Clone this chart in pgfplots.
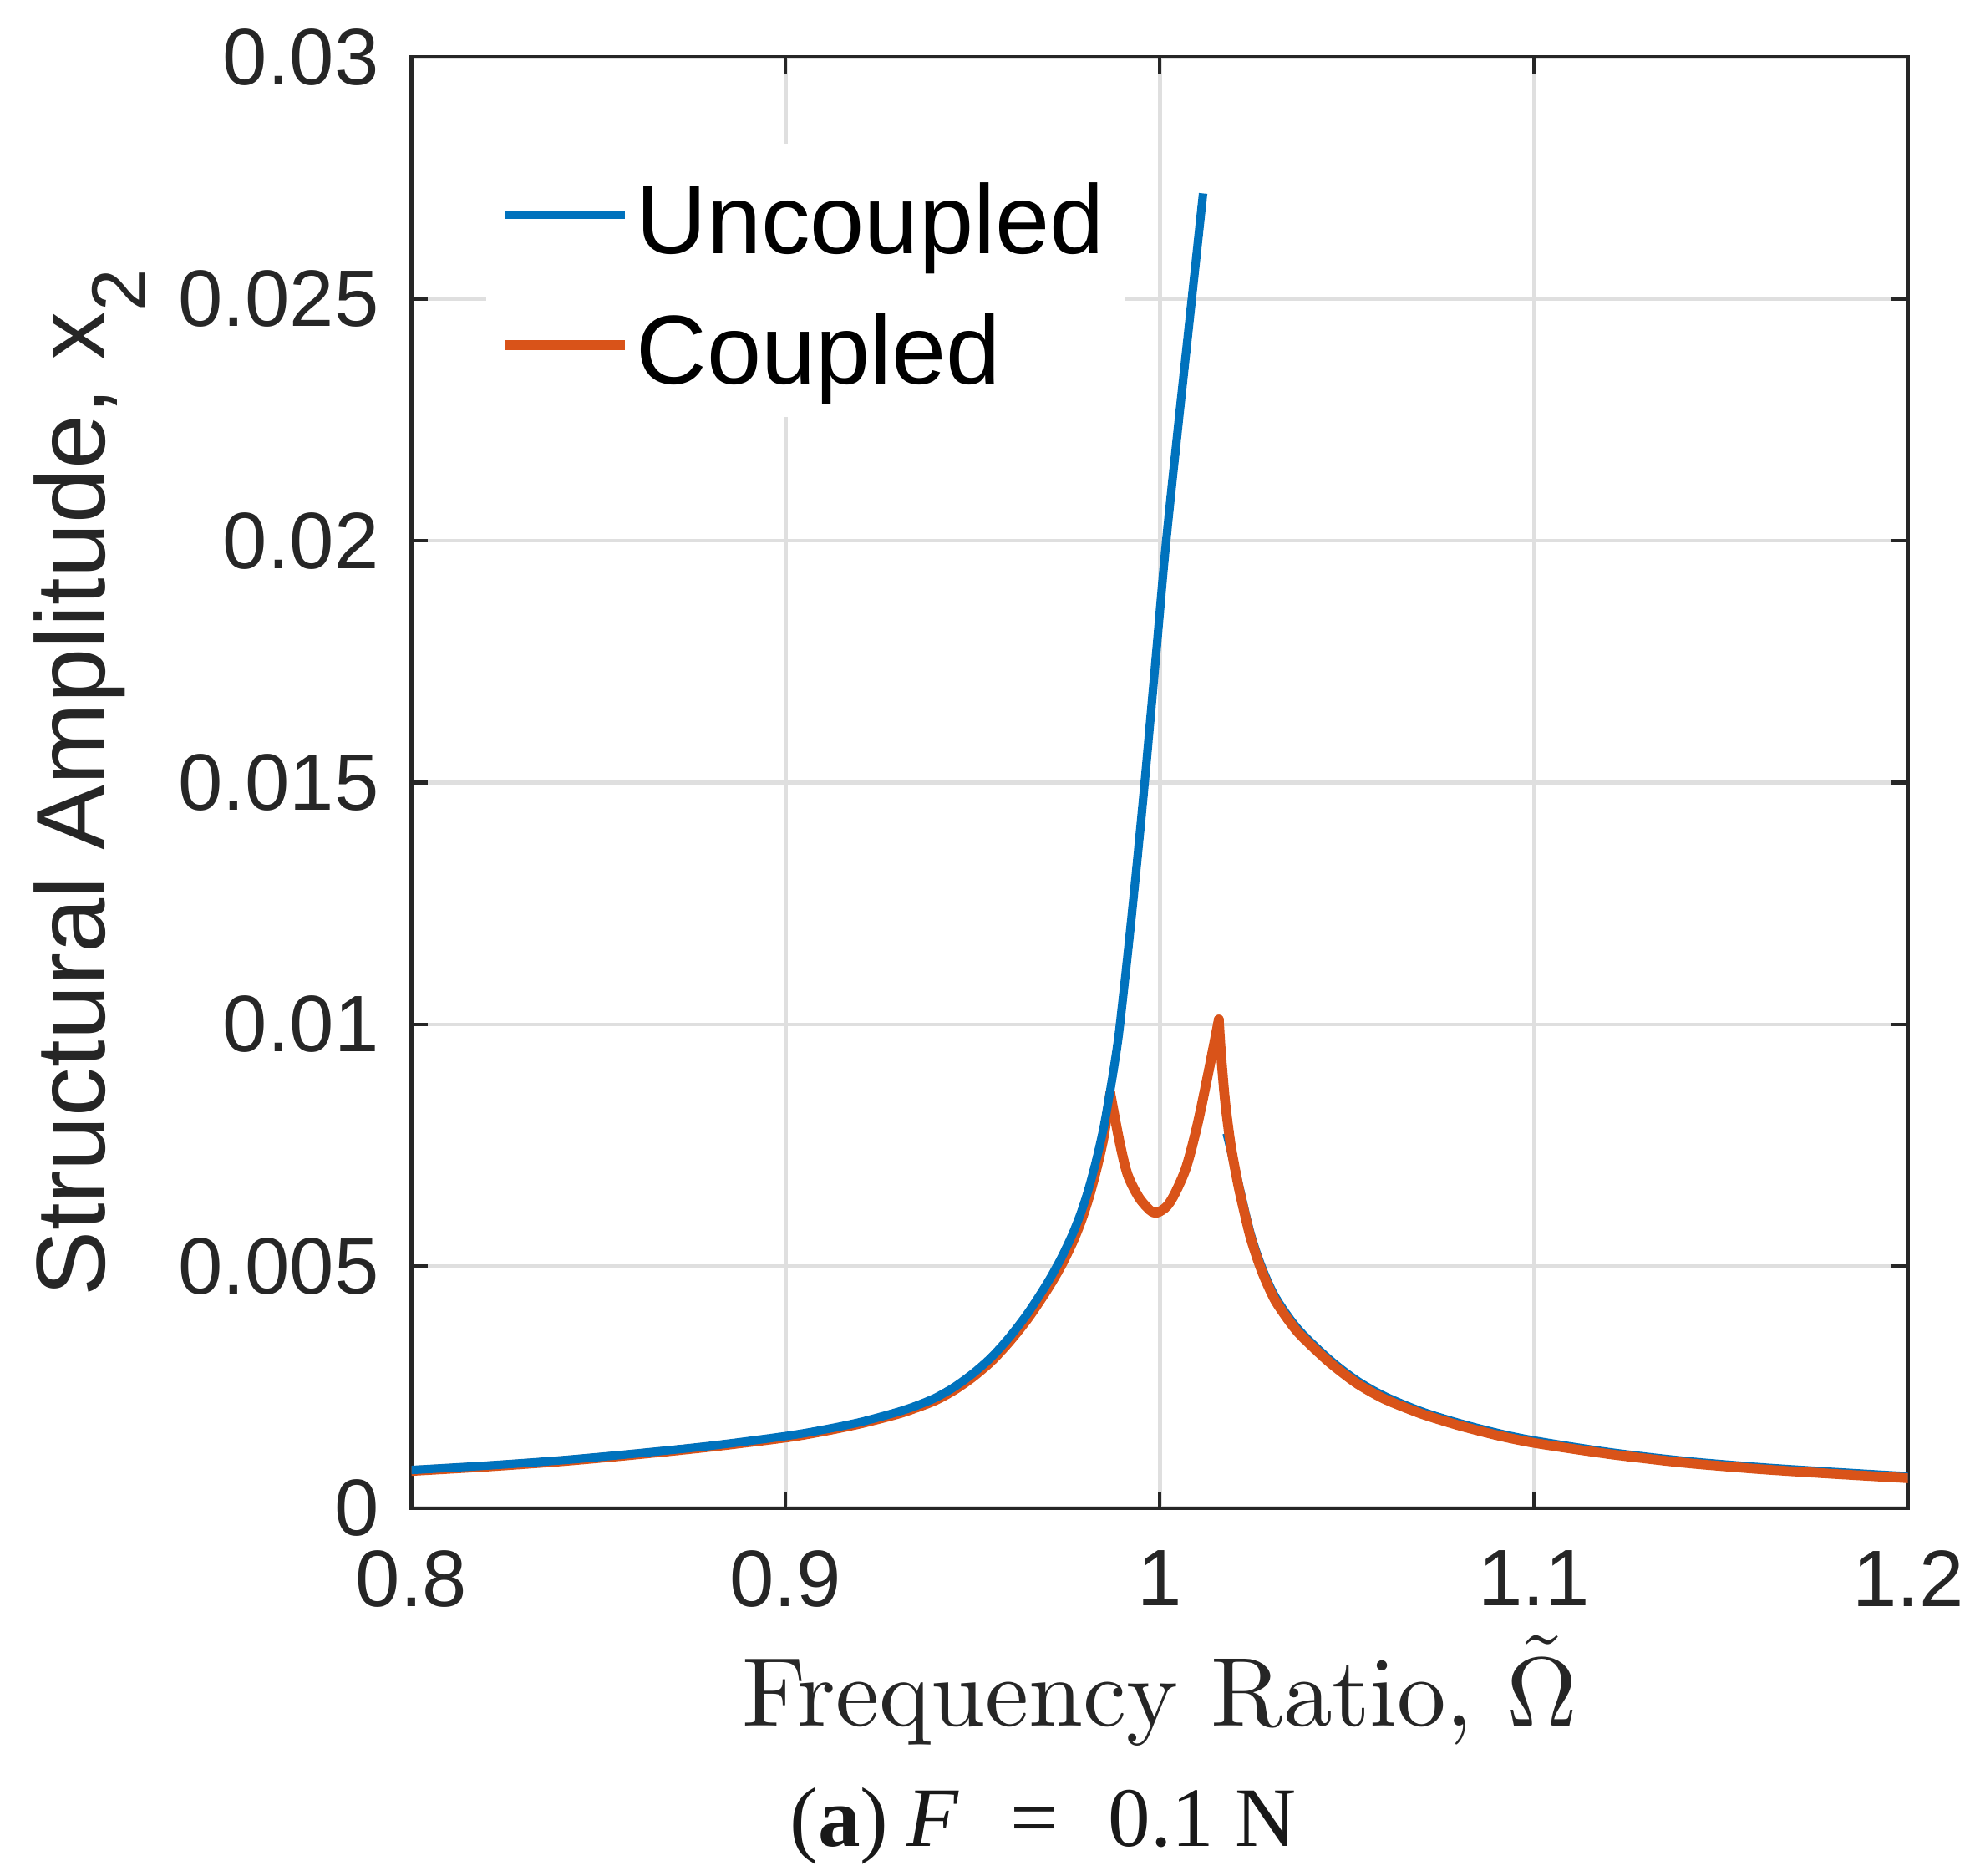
\documentclass[border=0pt]{standalone}
\usepackage{fontspec}
\usepackage{pgfplots}
\pgfplotsset{compat=1.18}
\newfontfamily\arial{Liberation Sans}
\newfontfamily\timesf{Liberation Serif}
\font\cmrxten=cmr10 at 22pt
\definecolor{mblue}{RGB}{0,114,189}
\definecolor{morange}{RGB}{217,83,25}
\definecolor{axgray}{RGB}{38,38,38}
\definecolor{gridgray}{RGB}{223,223,223}
\begin{document}
\begin{tikzpicture}
\begin{axis}[
  name=ax,
  scale only axis, width=11.82cm, height=11.46cm,
  xmin=0.8, xmax=1.2, ymin=0, ymax=0.03,
  xtick={0.8,0.9,1,1.1,1.2}, xticklabels={0.8,0.9,1,1.1,1.2},
  ytick={0,0.005,0.01,0.015,0.02,0.025,0.03},
  yticklabels={0,0.005,0.01,0.015,0.02,0.025,0.03},
  scaled y ticks=false, scaled x ticks=false,
  tick align=inside, tick pos=both, major tick length=0.128cm,
  axis line style={draw=axgray, line width=0.8pt},
  every tick/.style={draw=axgray, line width=0.8pt},
  grid=major, major grid style={draw=gridgray, line width=0.9pt},
  /pgf/number format/assume math mode=true,
  ticklabel style={font=\arial\fontsize{18}{18}\selectfont, text=axgray},
  yticklabel style={anchor=east, inner sep=0pt, xshift=-0.25cm},
  xticklabel style={anchor=north, inner sep=0pt, yshift=-0.33cm},
  ylabel={Structural Amplitude, x\raisebox{-9pt}{\fontsize{17}{17}\selectfont 2}},
  ylabel style={font=\arial\fontsize{22}{22}\selectfont, text=axgray, at={(axis description cs:-0.1777,0.5)}, anchor=south, inner sep=0pt},
  xlabel={{\cmrxten Frequency Ratio, \accent126 \char10}},
  xlabel style={text=axgray, at={(axis description cs:0.5,-0.1501)}, anchor=base, inner sep=0pt},
  legend style={draw=none, fill=white, at={(axis description cs:0.0491,0.9411)}, anchor=north west,
    font=\arial\fontsize{22}{22}\selectfont, inner xsep=0.11cm, inner ysep=0.05cm,
    row sep=0cm, column sep=0cm,
    nodes={inner xsep=0.05cm, inner ysep=0.1cm, text height=0.72cm, text depth=0.11cm}},
  legend cell align=left,
  legend image code/.code={\draw[#1] (0cm,0cm) -- (0.95cm,0cm);},
]
\addlegendimage{mblue, line width=1.9pt}
\addlegendentry{Uncoupled}
\addlegendimage{morange, line width=2.2pt}
\addlegendentry{Coupled}

% Uncoupled, lower (right) branch
\addplot[mblue, line width=1.9pt, smooth, tension=0.5, forget plot] coordinates {
(1.0179,0.00775) (1.0190,0.00740) (1.0212,0.00667) (1.0242,0.00570)
(1.0272,0.00500) (1.0309,0.00437) (1.0368,0.00372) (1.0450,0.00310)
(1.0525,0.00265) (1.0600,0.00232) (1.0700,0.00200) (1.0800,0.00176)
(1.0900,0.00156) (1.1000,0.00140) (1.1200,0.00116) (1.1400,0.00098)
(1.1600,0.00085) (1.1800,0.00075) (1.2000,0.00066)
};

% Coupled: left part up to first cusp
\addplot[morange, line width=2.2pt, smooth, tension=0.5, line cap=round, forget plot] coordinates {
(0.80,0.00077) (0.82,0.00086) (0.84,0.00097) (0.86,0.00111) (0.88,0.00127)
(0.90,0.00146) (0.91,0.00159) (0.92,0.00175) (0.93,0.00195) (0.935,0.00208)
(0.94,0.00223) (0.945,0.00244) (0.95,0.00271) (0.955,0.00304) (0.96,0.00346)
(0.965,0.00395) (0.97,0.00453) (0.9732,0.00495) (0.975,0.00522) (0.977,0.00555)
(0.979,0.00594) (0.981,0.00641) (0.983,0.00698) (0.985,0.00766) (0.9868,0.00858)
};
% Coupled: between the two cusps
\addplot[morange, line width=2.2pt, smooth, tension=0.5, line cap=round, forget plot] coordinates {
(0.9868,0.00858) (0.9892,0.00760) (0.9914,0.00690) (0.9944,0.00643)
(0.9974,0.00616) (0.9993,0.00611) (1.0019,0.00624) (1.0041,0.00651)
(1.0071,0.00705) (1.0100,0.00790) (1.0130,0.00900) (1.0158,0.01010)
};
% Coupled: right part after second cusp
\addplot[morange, line width=2.2pt, smooth, tension=0.4, line cap=round, forget plot] coordinates {
(1.0158,0.01010) (1.0164,0.00938) (1.0175,0.00840) (1.0190,0.00750) (1.0212,0.00660)
(1.0242,0.00562) (1.0272,0.00492) (1.0309,0.00429) (1.0368,0.00365)
(1.0450,0.00304) (1.0525,0.00259) (1.0600,0.00226) (1.0700,0.00195)
(1.0800,0.00171) (1.0900,0.00151) (1.1000,0.00135) (1.1200,0.00112)
(1.1400,0.00094) (1.1600,0.00081) (1.1800,0.00071) (1.2000,0.00062)
};

% Uncoupled, upper (left) branch
\addplot[mblue, line width=1.9pt, smooth, tension=0.5, forget plot] coordinates {
(0.80,0.00079) (0.82,0.00088) (0.84,0.00099) (0.86,0.00113) (0.88,0.00129)
(0.90,0.00149) (0.91,0.00162) (0.92,0.00178) (0.93,0.00199) (0.935,0.00212)
(0.94,0.00228) (0.945,0.00250) (0.95,0.00278) (0.955,0.00312) (0.96,0.00355)
(0.965,0.00406) (0.97,0.00466) (0.9732,0.00510) (0.975,0.00538) (0.977,0.00572)
(0.979,0.00612) (0.981,0.00660) (0.983,0.00718) (0.985,0.00786) (0.9867,0.00860)
(0.9880,0.00922) (0.9892,0.00988) (0.9913,0.01135) (0.9933,0.01285)
(0.9958,0.01485) (0.9987,0.01735) (1.0015,0.01980) (1.0045,0.02205)
(1.0082,0.02472) (1.0116,0.02718)
};
\end{axis}
\node[anchor=base, font=\timesf\fontsize{19}{19}\selectfont, text=black!90] at ([shift={(4.99cm,-2.67cm)}]ax.south west) {({\bfseries a})\hspace{0.22em}\textit{F}\hspace{0.6em}=\hspace{0.6em}0.1 N};
\pgfresetboundingbox
\path ([shift={(-3.25cm,-2.90cm)}]ax.south west) rectangle ([shift={(0.53cm,0.45cm)}]ax.north east);
\end{tikzpicture}
\end{document}
